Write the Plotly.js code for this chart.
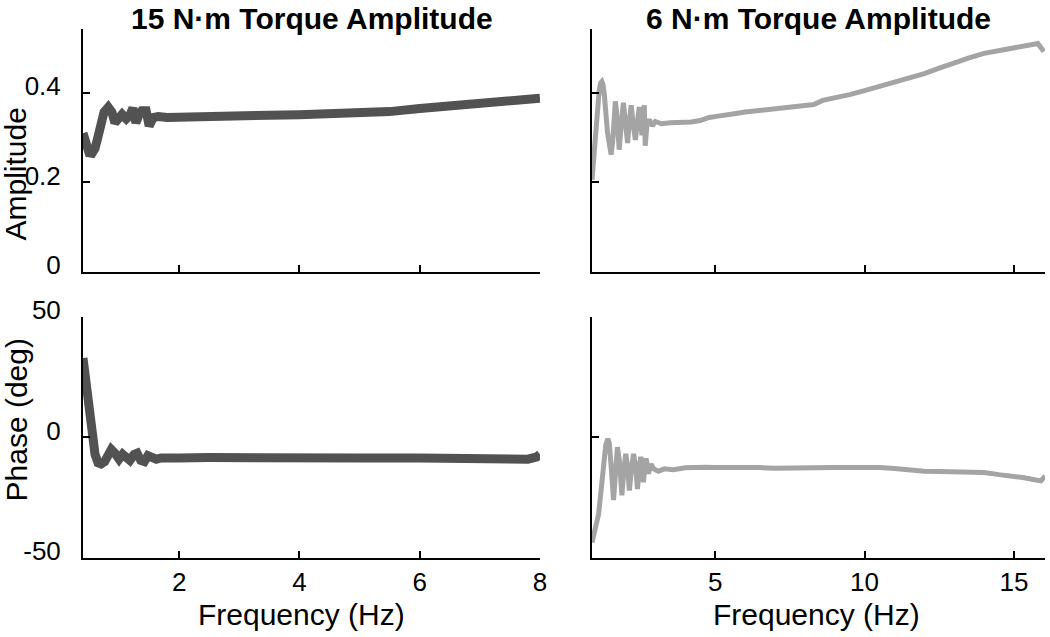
<!DOCTYPE html>
<html>
<head>
<meta charset="utf-8">
<script src="https://cdn.plot.ly/plotly-3.0.1.min.js"></script>
<style>html,body{margin:0;padding:0;background:#fff;}#chart{width:1050px;height:637px;}</style>
</head>
<body>
<div id="chart"></div>
<script>
// ---- Data ----
// 15 N·m torque amplitude: amplitude vs frequency
const ampX15 = [0.4,0.45,0.5,0.55,0.6,0.65,0.7,0.75,0.82,0.88,0.93,1.0,1.05,1.12,1.18,1.23,1.28,1.33,1.38,1.45,1.5,1.57,1.65,1.8,2.0,2.3,2.6,3.0,3.5,4.0,4.5,5.0,5.5,6.0,6.5,7.0,7.5,7.8,8.0];
const ampY15 = [0.31,0.282,0.266,0.265,0.276,0.302,0.333,0.357,0.368,0.357,0.333,0.342,0.352,0.342,0.35,0.366,0.333,0.35,0.36,0.36,0.326,0.345,0.347,0.345,0.346,0.345,0.348,0.348,0.35,0.351,0.352,0.353,0.358,0.365,0.371,0.376,0.380,0.384,0.388];
// 15 N·m torque amplitude: phase vs frequency
const phaseX15 = [0.4,0.45,0.5,0.55,0.6,0.65,0.7,0.76,0.82,0.87,0.93,1.0,1.06,1.12,1.18,1.25,1.3,1.36,1.42,1.48,1.55,1.62,1.7,1.85,2.0,2.5,3.0,4.0,5.0,6.0,7.0,7.4,7.6,7.8,7.95,8.0];
const phaseY15 = [33,22,10,0,-7,-10.5,-11,-10,-7,-5,-6.5,-9,-7,-8.5,-9.5,-7,-6.5,-9.5,-10,-7.5,-8,-9,-8.5,-8.2,-8.5,-8.3,-8.5,-8.4,-8.5,-8.5,-8.6,-9.2,-9.5,-9,-8,-7];
// 6 N·m torque amplitude: amplitude vs frequency
const ampX6 = [0.88,0.95,1.05,1.12,1.17,1.21,1.25,1.3,1.4,1.47,1.52,1.57,1.62,1.66,1.7,1.79,1.86,1.93,1.99,2.07,2.13,2.19,2.26,2.33,2.4,2.46,2.51,2.55,2.6,2.63,2.66,2.72,2.8,2.9,3.0,3.2,3.5,3.8,4.2,4.5,4.8,5.1,5.4,5.7,6.0,6.5,7.0,7.5,8.0,8.3,8.6,9.0,9.5,10.0,10.5,11.0,11.5,12.0,12.5,13.0,13.5,14.0,14.5,15.0,15.3,15.6,15.8,16.0];
const ampY6 = [0.206,0.27,0.36,0.405,0.422,0.425,0.418,0.39,0.31,0.272,0.262,0.29,0.36,0.381,0.36,0.273,0.33,0.378,0.34,0.288,0.335,0.372,0.33,0.295,0.335,0.368,0.34,0.305,0.355,0.372,0.282,0.33,0.34,0.326,0.336,0.331,0.333,0.333,0.335,0.338,0.345,0.348,0.350,0.354,0.357,0.361,0.365,0.368,0.371,0.374,0.383,0.388,0.396,0.405,0.414,0.423,0.432,0.443,0.455,0.467,0.478,0.488,0.494,0.500,0.503,0.508,0.510,0.492];
// 6 N·m torque amplitude: phase vs frequency
const phaseX6 = [0.88,1.0,1.1,1.2,1.27,1.34,1.41,1.46,1.52,1.6,1.67,1.73,1.8,1.88,1.95,2.01,2.07,2.13,2.2,2.27,2.34,2.40,2.46,2.51,2.56,2.60,2.65,2.69,2.77,2.85,2.94,3.1,3.3,3.6,4.0,4.3,4.7,5.0,5.5,6.0,6.5,7.0,7.5,8.0,8.5,9.0,9.5,10.0,10.5,11.0,11.5,12.0,12.5,13.0,13.5,14.0,14.5,15.0,15.3,15.6,15.9,16.05];
const phaseY6 = [-43.6,-38,-31.8,-20,-9.6,-3,-0.5,-2.5,-12,-26,-14,-4,-10,-24,-13,-6.8,-12,-22,-13,-6.8,-12,-21.4,-13,-8,-12,-18.6,-12,-8.7,-15,-11,-13,-14,-13,-13.4,-12.6,-12.4,-12.3,-12.5,-12.4,-12.6,-12.5,-12.8,-12.6,-12.8,-12.5,-12.4,-12.5,-12.4,-12.5,-12.9,-13.5,-14,-14.1,-14.2,-14.3,-14.5,-15.4,-16,-16.6,-17.3,-18,-16];

// Tick definitions
const ampTicks = [0, 0.2, 0.4];
const ampTickText = ['0', '0.2', '0.4'];
const phaseTicks = [-50, 0, 50];
const phaseTickText = ['-50', '0', '50'];
const freqTicks15 = [2, 4, 6, 8];
const freqTicks6 = [5, 10, 15];

// Text
const panelTitles = ['15 N·m Torque Amplitude', '6 N·m Torque Amplitude'];
const xTitle = 'Frequency (Hz)';
const yTitles = ['Amplitude', 'Phase (deg)'];

const FONT = 'Liberation Sans, Arial, Helvetica, sans-serif';
const DARK = '#525252';
const LIGHT = '#a4a4a4';

const traces = [
  {x: ampX15, y: ampY15, xaxis: 'x', yaxis: 'y', mode: 'lines', line: {color: DARK, width: 9}},
  {x: ampX6, y: ampY6, xaxis: 'x2', yaxis: 'y2', mode: 'lines', line: {color: LIGHT, width: 5}},
  {x: phaseX15, y: phaseY15, xaxis: 'x3', yaxis: 'y3', mode: 'lines', line: {color: DARK, width: 9}},
  {x: phaseX6, y: phaseY6, xaxis: 'x4', yaxis: 'y4', mode: 'lines', line: {color: LIGHT, width: 5}}
];

function axBase(extra) {
  return Object.assign({
    showline: true, linecolor: '#000', linewidth: 2,
    ticks: 'inside', ticklen: 7, tickwidth: 2, tickcolor: '#000',
    showgrid: false, zeroline: false, mirror: false, fixedrange: true,
    tickfont: {family: FONT, size: 26, color: '#000'}
  }, extra);
}

const leftDom = [0, 0.475];
const rightDom = [0.529, 1];
const topDom = [0.5406, 1];
const botDom = [0, 0.4556];
const paperTop = 1 + 29 / 529;

const layout = {
  width: 1050, height: 637,
  margin: {l: 83, r: 5, t: 29, b: 79},
  paper_bgcolor: '#fff', plot_bgcolor: '#fff',
  showlegend: false,
  font: {family: FONT, color: '#000'},
  xaxis: axBase({domain: leftDom, anchor: 'y', range: [0.4, 8], tickvals: freqTicks15, showticklabels: false}),
  yaxis: axBase({domain: topDom, anchor: 'x', range: [0, 0.5424], tickvals: ampTicks, ticktext: ampTickText, ticklabelstandoff: 15, ticklabelshift: -7}),
  xaxis2: axBase({domain: rightDom, anchor: 'y2', range: [0.876, 16.04], tickvals: freqTicks6, showticklabels: false}),
  yaxis2: axBase({domain: topDom, anchor: 'x2', range: [0, 0.5424], tickvals: ampTicks, showticklabels: false}),
  xaxis3: axBase({domain: leftDom, anchor: 'y3', range: [0.4, 8], tickvals: freqTicks15, ticktext: freqTicks15.map(String)}),
  yaxis3: axBase({domain: botDom, anchor: 'x3', range: [-50, 50], tickvals: phaseTicks, ticktext: phaseTickText, ticklabelstandoff: 15, ticklabelshift: -7}),
  xaxis4: axBase({domain: rightDom, anchor: 'y4', range: [0.876, 16.04], tickvals: freqTicks6, ticktext: freqTicks6.map(String)}),
  yaxis4: axBase({domain: botDom, anchor: 'x4', range: [-50, 50], tickvals: phaseTicks, showticklabels: false}),
  annotations: [
    {text: '<b>' + panelTitles[0] + '</b>', xref: 'paper', yref: 'paper', x: (311.5 - 83) / 962, y: paperTop, xanchor: 'center', yanchor: 'top', showarrow: false, font: {family: FONT, size: 30, color: '#000'}},
    {text: '<b>' + panelTitles[1] + '</b>', xref: 'paper', yref: 'paper', x: (818.5 - 83) / 962, y: paperTop, xanchor: 'center', yanchor: 'top', showarrow: false, font: {family: FONT, size: 30, color: '#000'}},
    {text: yTitles[0], xref: 'paper', yref: 'paper', x: (15.5 - 83) / 962, y: (558 - 174) / 529, xanchor: 'center', yanchor: 'middle', textangle: -90, showarrow: false, font: {family: FONT, size: 30, color: '#000'}},
    {text: yTitles[1], xref: 'paper', yref: 'paper', x: (15.5 - 83) / 962, y: (558 - 420) / 529, xanchor: 'center', yanchor: 'middle', textangle: -90, showarrow: false, font: {family: FONT, size: 30, color: '#000'}},
    {text: xTitle, xref: 'paper', yref: 'paper', x: (301.3 - 83) / 962, y: (558 - 614) / 529, xanchor: 'center', yanchor: 'middle', showarrow: false, font: {family: FONT, size: 30, color: '#000'}},
    {text: xTitle, xref: 'paper', yref: 'paper', x: (816.7 - 83) / 962, y: (558 - 614) / 529, xanchor: 'center', yanchor: 'middle', showarrow: false, font: {family: FONT, size: 30, color: '#000'}}
  ]
};

Plotly.newPlot('chart', traces, layout, {displayModeBar: false, staticPlot: true});
</script>
</body>
</html>
